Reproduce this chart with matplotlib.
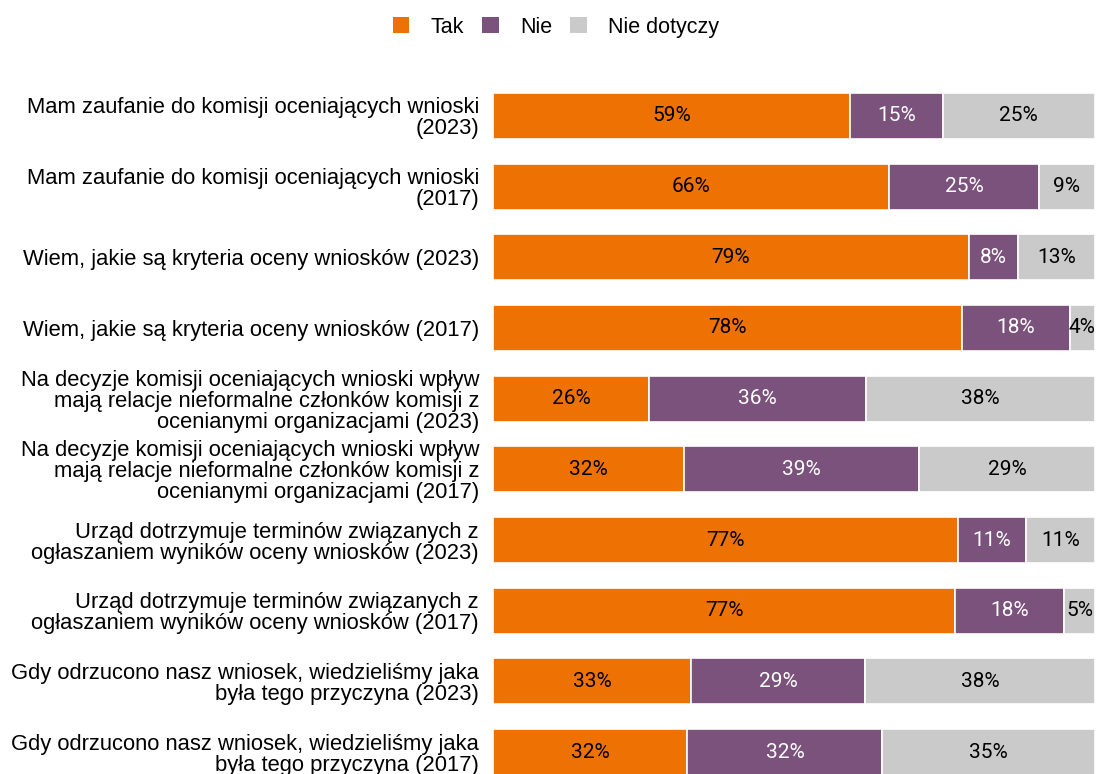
import numpy as np
import matplotlib.pyplot as plt
from matplotlib.patches import Patch

# Data
categories = [
    "Mam zaufanie do komisji oceniających wnioski\n(2023)",
    "Mam zaufanie do komisji oceniających wnioski\n(2017)",
    "Wiem, jakie są kryteria oceny wniosków (2023)",
    "Wiem, jakie są kryteria oceny wniosków (2017)",
    "Na decyzje komisji oceniających wnioski wpływ\nmają relacje nieformalne członków komisji z\nocenianymi organizacjami (2023)",
    "Na decyzje komisji oceniających wnioski wpływ\nmają relacje nieformalne członków komisji z\nocenianymi organizacjami (2017)",
    "Urząd dotrzymuje terminów związanych z\nogłaszaniem wyników oceny wniosków (2023)",
    "Urząd dotrzymuje terminów związanych z\nogłaszaniem wyników oceny wniosków (2017)",
    "Gdy odrzucono nasz wniosek, wiedzieliśmy jaka\nbyła tego przyczyna (2023)",
    "Gdy odrzucono nasz wniosek, wiedzieliśmy jaka\nbyła tego przyczyna (2017)",
]
tak = [59.3, 65.8, 79.0, 77.9, 25.9, 31.7, 77.2, 76.8, 32.9, 32.3]
nie = [15.4, 24.9, 8.2, 17.9, 36.0, 39.1, 11.4, 18.1, 28.9, 32.4]
nie_dotyczy = [25.3, 9.3, 12.8, 4.2, 38.1, 29.2, 11.4, 5.1, 38.2, 35.3]

series = [("Tak", tak, "#EE7203", "black"),
          ("Nie", nie, "#7B527B", "white"),
          ("Nie dotyczy", nie_dotyczy, "#CACACA", "black")]

label_font = ["Liberation Sans", "DejaVu Sans"]
value_font = ["Roboto", "DejaVu Sans"]

fig = plt.figure(figsize=(10.99, 7.74), dpi=100)
ax = fig.add_axes([0.4486, -0.0173, 0.5477, 0.9132])

y = np.arange(len(categories))
left = np.zeros(len(categories))
for name, vals, color, tcolor in series:
    vals = np.array(vals)
    ax.barh(y, vals, left=left, height=0.65, color=color,
            edgecolor="white", linewidth=1.2)
    for yi, l, v in zip(y, left, vals):
        ax.text(l + v / 2, yi, f"{round(v)}%", ha="center", va="center",
                color=tcolor, fontsize=15, family=value_font)
    left += vals

ax.set_xlim(0, 100)
ax.set_ylim(9.5, -0.5)
ax.set_yticks(y)
ax.set_yticklabels(categories, fontsize=15.8, family=label_font,
                   linespacing=1.0)
ax.tick_params(axis="y", length=0, pad=10)
ax.set_xticks([])
for s in ax.spines.values():
    s.set_visible(False)

handles = [Patch(facecolor=c, edgecolor="none", label=n) for n, _, c, _ in series]
fig.legend(handles=handles, loc="center", bbox_to_anchor=(0.506, 0.965),
           ncol=3, frameon=False, handlelength=0.75, handleheight=0.75,
           handletextpad=1.0, columnspacing=0.85,
           prop={"family": label_font, "size": 15.5})

fig.savefig("out.png", dpi=100)
